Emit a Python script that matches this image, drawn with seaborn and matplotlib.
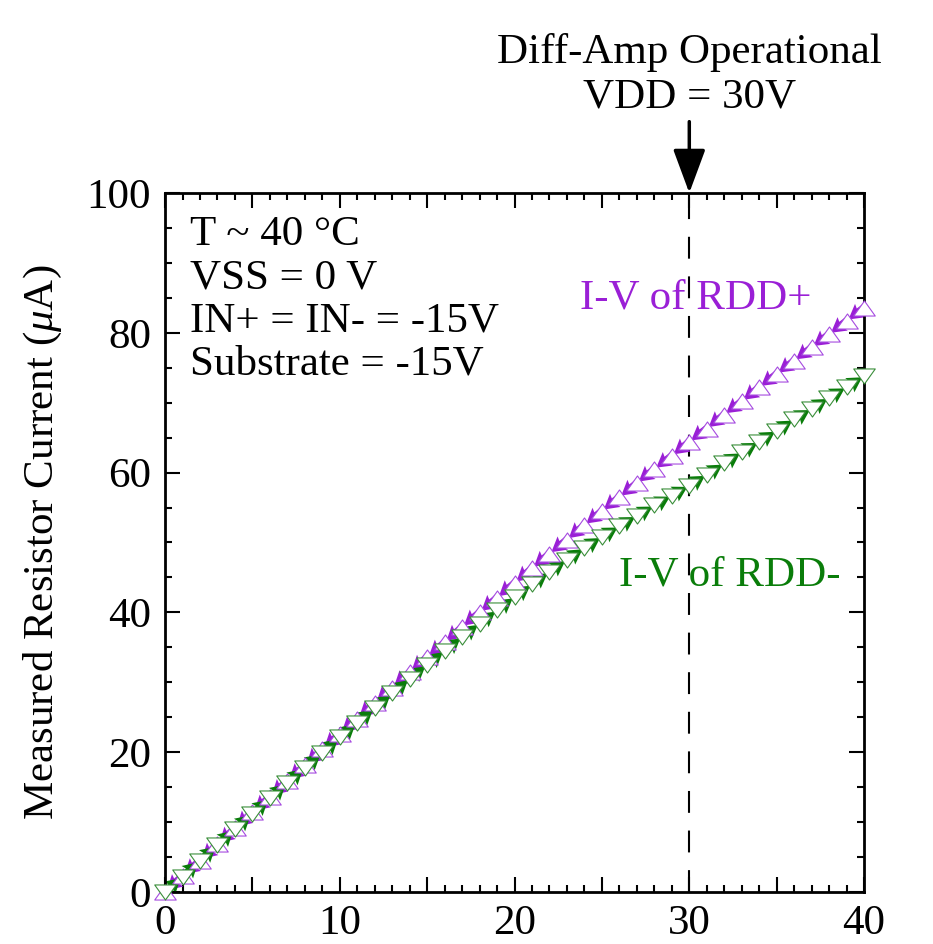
import numpy as np
import matplotlib
matplotlib.use('Agg')
import matplotlib.pyplot as plt
from matplotlib.path import Path
from matplotlib.markers import MarkerStyle
from matplotlib.ticker import MultipleLocator
import seaborn as sns

# measured I-V data (bias voltage in V, current in uA)
volts = list(range(0, 41))
i_rdd_plus = [0.0, 2.3, 4.5, 6.8, 9.1, 11.4, 13.6, 15.9, 18.1, 20.4,
              22.6, 24.8, 27.0, 29.2, 31.4, 33.6, 35.7, 37.9, 40.0, 42.1,
              44.2, 46.3, 48.4, 50.4, 52.5, 54.5, 56.5, 58.5, 60.5, 62.4,
              64.4, 66.3, 68.3, 70.2, 72.2, 74.1, 76.0, 77.9, 79.8, 81.7,
              83.6]
i_rdd_minus = [0.0, 2.2, 4.5, 6.7, 9.0, 11.2, 13.4, 15.6, 17.8, 19.9,
               22.1, 24.2, 26.3, 28.4, 30.5, 32.5, 34.5, 36.5, 38.4, 40.3,
               42.2, 44.0, 45.8, 47.5, 49.2, 50.8, 52.3, 53.8, 55.3, 56.7,
               58.1, 59.7, 61.3, 62.9, 64.4, 66.0, 67.6, 69.1, 70.7, 72.2,
               73.8]

x_ticks = [0, 5, 10, 15, 20, 25, 30, 35, 40]
x_tick_labels = ['0', '', '10', '', '20', '', '30', '', '40']
y_ticks = [0, 20, 40, 60, 80, 100]
conditions = ['T ~ 40 \u00b0C', 'VSS = 0 V', 'IN+ = IN- = -15V', 'Substrate = -15V']
vdd_op = 30

purple = '#9A1FD6'
green = '#0A7D0A'

sns.set_theme(style='ticks')
plt.rcParams['font.family'] = ['Liberation Serif', 'DejaVu Serif']
plt.rcParams['mathtext.fontset'] = 'custom'
plt.rcParams['mathtext.rm'] = 'Liberation Serif'
plt.rcParams['mathtext.it'] = 'Liberation Serif:italic'
for key in ['text.color', 'axes.labelcolor', 'xtick.color', 'ytick.color']:
    plt.rcParams[key] = 'black'
FS = 31

fig = plt.figure(figsize=(9.33, 9.44), dpi=100)
ax = fig.add_axes([0.1769, 0.0551, 0.7492, 0.7405])

v = np.array(volts, dtype=float)
ip = np.array(i_rdd_plus)
im = np.array(i_rdd_minus)

# sweep-direction arrows between neighbouring points
qkw = dict(angles='xy', scale_units='xy', scale=1.12, width=0.0105,
           headwidth=2.3, headlength=2.0, headaxislength=1.8, zorder=2)
ax.quiver(v[1:], ip[1:], v[:-1] - v[1:], ip[:-1] - ip[1:], color=purple, **qkw)
ax.quiver(v[:-1], im[:-1], v[1:] - v[:-1], im[1:] - im[:-1], color=green, **qkw)

codes = [Path.MOVETO, Path.LINETO, Path.LINETO, Path.CLOSEPOLY]
tri_up = MarkerStyle(Path([(-1, -0.7), (1, -0.7), (0, 0.7), (-1, -0.7)], codes))
tri_dn = MarkerStyle(Path([(-1, 0.7), (1, 0.7), (0, -0.7), (-1, 0.7)], codes))
sns.scatterplot(x=v, y=ip, ax=ax, marker=tri_up, s=240, facecolor='white',
                edgecolor='#A64BE0', linewidth=0.8, zorder=3, clip_on=False)
sns.scatterplot(x=v, y=im, ax=ax, marker=tri_dn, s=240, facecolor='white',
                edgecolor='#3A8E3A', linewidth=0.8, zorder=4, clip_on=False)

ax.axvline(vdd_op, color='black', lw=1.5, ls=(0, (10.5, 8.5)), zorder=1)

ax.set_xlim(0, 40)
ax.set_ylim(0, 100)
ax.set_xticks(x_ticks)
ax.set_xticklabels(x_tick_labels)
ax.set_yticks(y_ticks)
ax.xaxis.set_minor_locator(MultipleLocator(1))
ax.yaxis.set_minor_locator(MultipleLocator(5))
ax.tick_params(which='both', direction='in', top=True, right=True, width=1.5,
               colors='black', labelsize=FS)
ax.tick_params(which='major', length=11)
ax.tick_params(which='minor', length=5)
ax.tick_params(axis='x', pad=9)
ax.tick_params(axis='y', pad=10)
for sp in ax.spines.values():
    sp.set_linewidth(2)
    sp.set_color('black')

ax.set_ylabel(r'Measured Resistor Current ($\mu$A)', fontsize=FS, labelpad=16)

for k, line in enumerate(conditions):
    ax.text(0.036, 0.9256 - k * 0.0620, line, transform=ax.transAxes,
            fontsize=FS, ha='left', va='baseline')

ax.text(23.75, 83.4, 'I-V of RDD+', color=purple, fontsize=FS, va='baseline')
ax.text(26.0, 43.9, 'I-V of RDD-', color=green, fontsize=FS, va='baseline')

ax.annotate('', xy=(vdd_op, 100), xytext=(vdd_op, 110.2), xycoords='data',
            annotation_clip=False,
            arrowprops=dict(arrowstyle='-|>,head_length=1.35,head_width=0.5',
                            mutation_scale=20, lw=2.5, color='black',
                            shrinkA=0, shrinkB=0))
ax.text(vdd_op, 118.6, 'Diff-Amp Operational', fontsize=FS, ha='center',
        va='baseline', clip_on=False)
ax.text(vdd_op, 112.2, 'VDD = 30V', fontsize=FS, ha='center', va='baseline',
        clip_on=False)

fig.savefig('out.png', dpi=100)
